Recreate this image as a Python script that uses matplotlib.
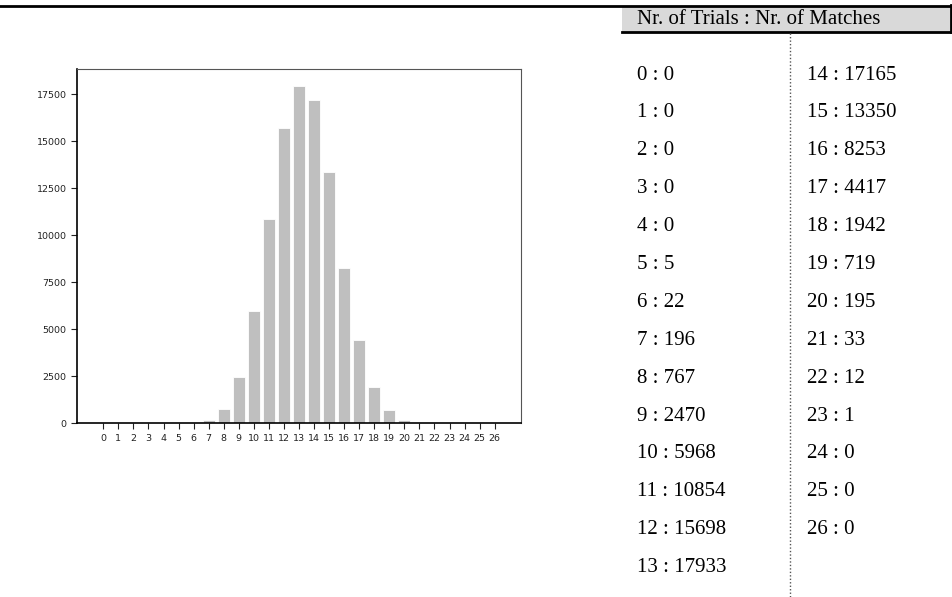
import matplotlib
matplotlib.use("Agg")
import matplotlib.pyplot as plt
from matplotlib.patches import Rectangle
from matplotlib.lines import Line2D

W, H = 952, 597

trials = list(range(27))
matches = [0, 0, 0, 0, 0, 5, 22, 196, 767, 2470, 5968, 10854, 15698, 17933,
           17165, 13350, 8253, 4417, 1942, 719, 195, 33, 12, 1, 0, 0, 0]
header = "Nr. of Trials : Nr. of Matches"
rows_per_col = 14


def fx(px):
    return px / W


def fy(py):
    return 1 - py / H


fig = plt.figure(figsize=(W / 100, H / 100), dpi=100)

# bar chart on the left
ax = fig.add_axes([fx(77), fy(423.3), fx(521) - fx(77), fy(69) - fy(423.3)])
ax.bar(trials, matches, width=0.8, color="#bfbfbf", edgecolor="white", linewidth=0.6)
ax.set_xticks(trials)
ax.set_xticklabels([str(t) for t in trials])
ax.set_yticks([0, 2500, 5000, 7500, 10000, 12500, 15000, 17500])
ax.set_xlim(-1.75, 27.75)
ax.set_ylim(0, max(matches) * 1.05)
ax.tick_params(labelsize=6.8, length=4.5, width=0.8, pad=3, colors="#222222")
for side in ["left", "bottom"]:
    ax.spines[side].set_linewidth(1.2)
    ax.spines[side].set_color("black")
for side in ["top", "right"]:
    ax.spines[side].set_linewidth(0.8)
    ax.spines[side].set_color("#555555")

# page rule and table header
fig.add_artist(Line2D([0, 1], [fy(5.5), fy(5.5)], color="black", linewidth=2,
                      transform=fig.transFigure))
fig.add_artist(Rectangle((fx(622), fy(32)), fx(952) - fx(622), fy(7) - fy(32),
                         facecolor="#d9d9d9", edgecolor="none",
                         transform=fig.transFigure))
fig.add_artist(Line2D([fx(622), 1], [fy(32), fy(32)], color="black", linewidth=2,
                      transform=fig.transFigure))
fig.add_artist(Line2D([fx(951), fx(951)], [fy(5), fy(32)], color="black", linewidth=2,
                      transform=fig.transFigure))
fig.text(fx(637), fy(19.5), header, family="Liberation Serif", fontsize=15,
         ha="left", va="center")

# dotted separator between the two columns
fig.add_artist(Line2D([fx(790), fx(790)], [fy(33), 0], color="#555555", linewidth=1,
                      linestyle=(0, (1, 1.5)), transform=fig.transFigure))

for i, (t, m) in enumerate(zip(trials, matches)):
    col = i // rows_per_col
    row = i % rows_per_col
    x = 637 if col == 0 else 807
    y = 75 + 37.9 * row
    fig.text(fx(x), fy(y), f"{t} : {m}", family="Liberation Serif", fontsize=15,
             ha="left", va="center")

fig.savefig("out.png", dpi=100)
plt.close(fig)
